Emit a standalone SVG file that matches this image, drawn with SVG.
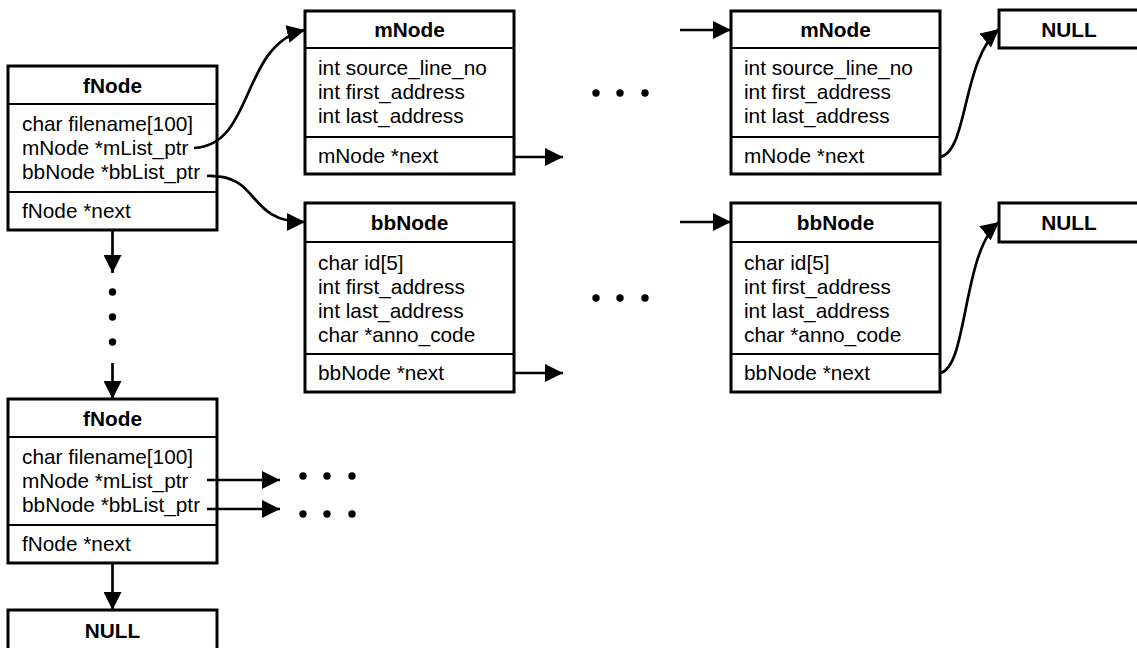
<svg xmlns="http://www.w3.org/2000/svg" width="1137" height="648" viewBox="0 0 1137 648">
  <defs>
    <marker id="arrow" markerUnits="userSpaceOnUse" markerWidth="19" markerHeight="18" refX="18" refY="9" orient="auto">
      <path d="M0,0 L18,9 L0,18 z" fill="#000"/>
    </marker>
    <style>
      .box { fill: #fff; stroke: #000; stroke-width: 3; }
      .sep { stroke: #000; stroke-width: 2; }
      .t { font-family: "Liberation Sans", Arial, sans-serif; font-size: 20.8px; fill: #000; }
      .h { font-weight: bold; text-anchor: middle; }
      .link { fill: none; stroke: #000; stroke-width: 2.7; marker-end: url(#arrow); }
      .dot { fill: #000; }
    </style>
  </defs>
  <rect width="1137" height="648" fill="#fff"/>

  <!-- first file node -->
  <g id="fNode1">
    <rect class="box" x="8" y="66" width="209" height="164"/>
    <line class="sep" x1="8" y1="104" x2="217" y2="104"/>
    <line class="sep" x1="8" y1="192" x2="217" y2="192"/>
    <text class="t h" x="112.5" y="93">fNode</text>
    <text class="t" x="22" y="131">char filename[100]</text>
    <text class="t" x="22" y="155">mNode *mList_ptr</text>
    <text class="t" x="22" y="179">bbNode *bbList_ptr</text>
    <text class="t" x="22" y="218">fNode *next</text>
  </g>

  <!-- last file node -->
  <g id="fNode2">
    <rect class="box" x="8" y="399" width="209" height="164"/>
    <line class="sep" x1="8" y1="437" x2="217" y2="437"/>
    <line class="sep" x1="8" y1="525" x2="217" y2="525"/>
    <text class="t h" x="112.5" y="426">fNode</text>
    <text class="t" x="22" y="464">char filename[100]</text>
    <text class="t" x="22" y="488">mNode *mList_ptr</text>
    <text class="t" x="22" y="512">bbNode *bbList_ptr</text>
    <text class="t" x="22" y="551">fNode *next</text>
  </g>

  <g id="nullF">
    <rect class="box" x="8" y="610" width="209" height="50"/>
    <text class="t h" x="112.5" y="638">NULL</text>
  </g>

  <!-- mapping nodes -->
  <g id="mNode1">
    <rect class="box" x="305" y="11" width="209" height="163"/>
    <line class="sep" x1="305" y1="48" x2="514" y2="48"/>
    <line class="sep" x1="305" y1="137" x2="514" y2="137"/>
    <text class="t h" x="409.5" y="37">mNode</text>
    <text class="t" x="318" y="75">int source_line_no</text>
    <text class="t" x="318" y="99">int first_address</text>
    <text class="t" x="318" y="123">int last_address</text>
    <text class="t" x="318" y="163">mNode *next</text>
  </g>

  <g id="mNode2">
    <rect class="box" x="731" y="11" width="209" height="163"/>
    <line class="sep" x1="731" y1="48" x2="940" y2="48"/>
    <line class="sep" x1="731" y1="137" x2="940" y2="137"/>
    <text class="t h" x="835.5" y="37">mNode</text>
    <text class="t" x="744" y="75">int source_line_no</text>
    <text class="t" x="744" y="99">int first_address</text>
    <text class="t" x="744" y="123">int last_address</text>
    <text class="t" x="744" y="163">mNode *next</text>
  </g>

  <g id="nullM">
    <rect class="box" x="999" y="10" width="140" height="38"/>
    <text class="t h" x="1069" y="37">NULL</text>
  </g>

  <!-- basic block nodes -->
  <g id="bbNode1">
    <rect class="box" x="305" y="203" width="209" height="189"/>
    <line class="sep" x1="305" y1="242" x2="514" y2="242"/>
    <line class="sep" x1="305" y1="354" x2="514" y2="354"/>
    <text class="t h" x="409.5" y="230">bbNode</text>
    <text class="t" x="318" y="270">char id[5]</text>
    <text class="t" x="318" y="294">int first_address</text>
    <text class="t" x="318" y="318">int last_address</text>
    <text class="t" x="318" y="342">char *anno_code</text>
    <text class="t" x="318" y="380">bbNode *next</text>
  </g>

  <g id="bbNode2">
    <rect class="box" x="731" y="203" width="209" height="189"/>
    <line class="sep" x1="731" y1="242" x2="940" y2="242"/>
    <line class="sep" x1="731" y1="354" x2="940" y2="354"/>
    <text class="t h" x="835.5" y="230">bbNode</text>
    <text class="t" x="744" y="270">char id[5]</text>
    <text class="t" x="744" y="294">int first_address</text>
    <text class="t" x="744" y="318">int last_address</text>
    <text class="t" x="744" y="342">char *anno_code</text>
    <text class="t" x="744" y="380">bbNode *next</text>
  </g>

  <g id="nullBB">
    <rect class="box" x="999" y="203" width="140" height="39"/>
    <text class="t h" x="1069" y="230">NULL</text>
  </g>

  <!-- pointers between nodes -->
  <g id="connectors">
    <path class="link" d="M194,148 C255,145 240,45 305,30"/>
    <path class="link" d="M207,176 C262,174 245,222 305,222"/>
    <path class="link" d="M514,157 L563,157"/>
    <path class="link" d="M514,373 L563,373"/>
    <path class="link" d="M680,30 L731,30"/>
    <path class="link" d="M680,222 L731,222"/>
    <path class="link" d="M940,157 C968,152 962,60 999,29"/>
    <path class="link" d="M940,373 C968,368 962,252 999,222"/>
    <path class="link" d="M112.5,230 L112.5,273"/>
    <path class="link" d="M112.5,363 L112.5,399"/>
    <path class="link" d="M112.5,563 L112.5,610"/>
    <path class="link" d="M207,480 L280,480"/>
    <path class="link" d="M207,509 L280,509"/>
  </g>

  <!-- ellipses for omitted list elements -->
  <g id="ellipses">
    <circle class="dot" cx="596" cy="93" r="3.7"/>
    <circle class="dot" cx="620" cy="93" r="3.7"/>
    <circle class="dot" cx="645" cy="93" r="3.7"/>
    <circle class="dot" cx="596" cy="298" r="3.7"/>
    <circle class="dot" cx="620" cy="298" r="3.7"/>
    <circle class="dot" cx="645" cy="298" r="3.7"/>
    <circle class="dot" cx="112.5" cy="292" r="3.7"/>
    <circle class="dot" cx="112.5" cy="317" r="3.7"/>
    <circle class="dot" cx="112.5" cy="342" r="3.7"/>
    <circle class="dot" cx="303" cy="476" r="3.7"/>
    <circle class="dot" cx="327" cy="476" r="3.7"/>
    <circle class="dot" cx="352" cy="476" r="3.7"/>
    <circle class="dot" cx="303" cy="514" r="3.7"/>
    <circle class="dot" cx="327" cy="514" r="3.7"/>
    <circle class="dot" cx="352" cy="514" r="3.7"/>
  </g>
</svg>
